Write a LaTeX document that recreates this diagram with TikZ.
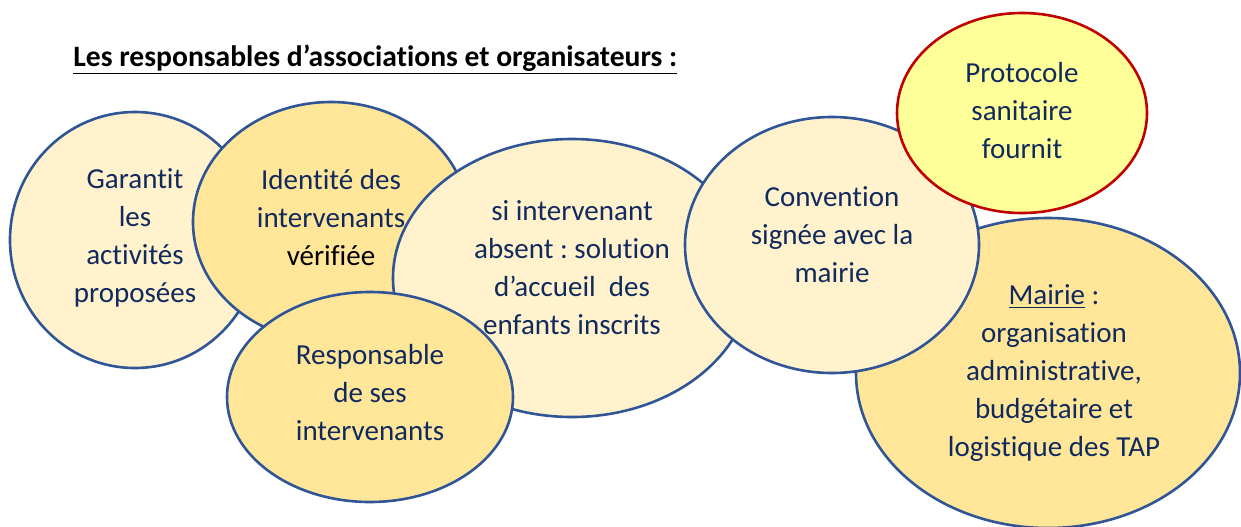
\documentclass[tikz,border=0pt]{standalone}
\usepackage{fontspec}
\setmainfont{Carlito}[Ligatures=NoCommon]
\usetikzlibrary{shapes,positioning}
\frenchspacing

\definecolor{bord}{RGB}{47,85,151}
\definecolor{encre}{RGB}{17,42,94}
\definecolor{clair}{RGB}{255,242,204}
\definecolor{fonce}{RGB}{255,230,153}
\definecolor{jaune}{RGB}{255,255,153}
\definecolor{rouge}{RGB}{192,0,0}

\tikzset{bulle/.style={ellipse, draw=bord, line width=1.3pt, inner sep=0pt},
         texte/.style={align=center, text=encre, font=\fontsize{14.5}{19}\selectfont}}

\begin{document}
\begin{tikzpicture}[x=0.5pt, y=-0.5pt]
\useasboundingbox (0,0) rectangle (1241,526);
\node[anchor=base west, inner sep=0pt, font=\fontsize{14.8}{17}\selectfont\bfseries] (titre) at (73,66) {\underline{Les responsables d’associations et organisateurs :}};
% bulles
\node[bulle, fill=clair, minimum width=125pt, minimum height=128pt] (garantit) at (135,240) {};
\node[texte] (garantit-t) at (135,238) {Garantit\\les\\activités\\proposées};
\node[bulle, fill=fonce, minimum width=138pt, minimum height=120pt] (identite) at (331,222) {};
\node[texte] (identite-t) at (331,218) {Identité des\\intervenants\\{\color{black}vérifiée}};
\node[bulle, fill=clair, minimum width=179pt, minimum height=139pt] (absent) at (572,278) {};
\node[texte] (absent-t) at (572,268) {si intervenant\\absent : solution\\d’accueil~ des\\enfants inscrits};
\node[bulle, fill=fonce, minimum width=143pt, minimum height=105pt] (resp) at (370,397) {};
\node[texte] (resp-t) at (370,393) {Responsable\\de ses\\intervenants};
\node[bulle, fill=fonce, minimum width=192pt, minimum height=155pt] (mairie) at (1048,373) {};
\node[texte] (mairie-t) at (1054,373) {\underline{Mairie} :\\organisation\\administrative,\\budgétaire et\\logistique des TAP};
\node[bulle, fill=clair, minimum width=147pt, minimum height=128pt] (conv) at (832,245) {};
\node[texte] (conv-t) at (832,235) {Convention\\signée avec la\\mairie};
\node[bulle, draw=rouge, line width=1.3pt, fill=jaune, minimum width=125pt, minimum height=100pt] (proto) at (1022,113) {};
\node[texte] (proto-t) at (1022,111) {Protocole\\sanitaire\\fournit};
\end{tikzpicture}
\end{document}
